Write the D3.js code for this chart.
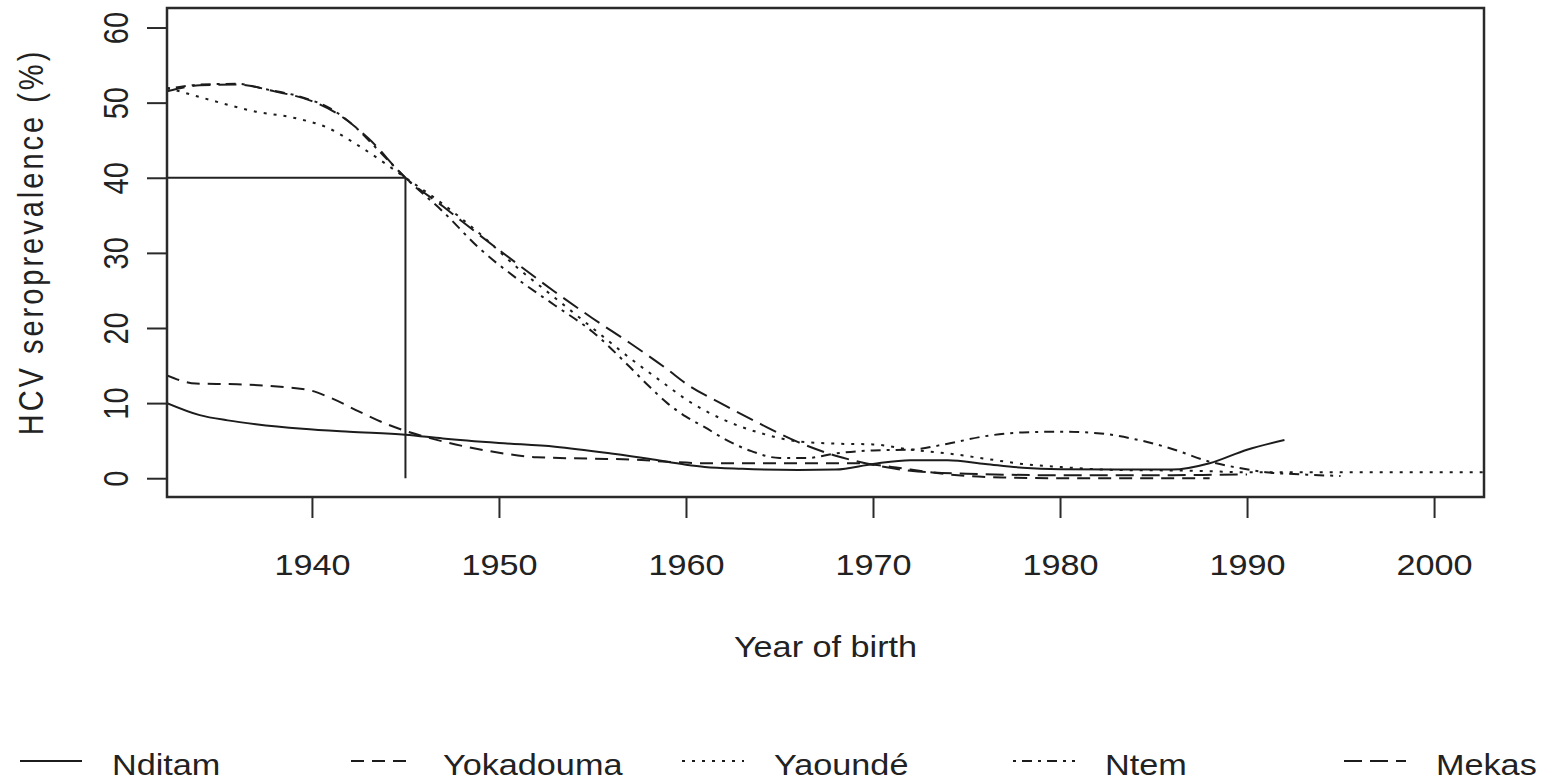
<!DOCTYPE html>
<html>
<head>
<meta charset="utf-8">
<script src="https://cdn.jsdelivr.net/npm/d3@7"></script>
<style>
  html, body { margin: 0; padding: 0; background: #fff; }
  svg { display: block; }
  text { font-family: "Liberation Sans", Arial, Helvetica, sans-serif; fill: #222; }
</style>
</head>
<body>
<svg id="chart" width="1555" height="783"></svg>
<script>
// ---------------- data ----------------
const seriesNames = ["Nditam", "Yokadouma", "Yaoundé", "Ntem", "Mekas"];

const nditamYears  = [1932.25, 1934, 1935.5, 1937, 1939.5, 1942, 1945, 1947, 1950, 1953, 1956, 1958, 1960, 1961, 1963, 1966, 1968, 1970, 1972, 1974, 1976, 1978, 1980, 1983, 1986, 1988, 1990, 1992];
const nditamValues = [10.0, 8.4, 7.7, 7.2, 6.6, 6.2, 5.8, 5.3, 4.7, 4.2, 3.3, 2.6, 1.8, 1.5, 1.25, 1.1, 1.15, 1.9, 2.4, 2.4, 1.9, 1.4, 1.2, 1.15, 1.15, 2.0, 3.8, 5.1];

const yokadoumaYears  = [1932.25, 1933.8, 1936, 1939.7, 1941, 1942.5, 1944, 1945, 1947, 1949.5, 1952, 1955, 1957, 1959, 1961, 1965, 1969, 1971, 1973, 1975, 1977, 1980, 1988];
const yokadoumaValues = [13.7, 12.6, 12.5, 11.8, 10.7, 8.9, 7.2, 6.3, 4.9, 3.6, 2.8, 2.6, 2.5, 2.2, 2.0, 2.0, 2.0, 1.5, 0.8, 0.3, 0.1, 0.0, 0.0];

const yaoundeYears  = [1932.25, 1934.5, 1937, 1939, 1940.8, 1942.6, 1945, 1947, 1949, 1951, 1953, 1955, 1957, 1959, 1960, 1962, 1964, 1966, 1968, 1970, 1972, 1974, 1976, 1978, 1980, 1983, 1987, 1990, 1995, 2002.67];
const yaoundeValues = [52.0, 50.4, 48.8, 48.0, 46.7, 44.1, 40.0, 36.5, 32.5, 28.0, 24.0, 20.0, 16.0, 12.3, 10.5, 7.8, 6.0, 4.9, 4.6, 4.5, 3.8, 3.3, 2.6, 1.9, 1.5, 1.1, 1.0, 0.8, 0.8, 0.8];

const ntemYears  = [1932.25, 1934, 1936, 1937.5, 1939.5, 1941, 1942.3, 1943.5, 1945, 1947, 1949, 1951, 1953, 1955, 1957, 1958, 1959, 1960, 1961, 1962, 1963.5, 1965, 1966.5, 1968, 1970, 1972, 1974, 1976, 1978, 1980, 1982, 1984, 1986, 1988, 1989.5, 1991, 1993, 1995];
const ntemValues = [51.8, 52.4, 52.5, 51.8, 50.7, 49.2, 46.8, 43.8, 40.0, 35.5, 30.5, 26.5, 23.0, 19.5, 14.8, 12.3, 10.0, 8.2, 6.8, 5.3, 3.6, 2.7, 2.7, 3.3, 3.7, 3.8, 4.6, 5.6, 6.1, 6.2, 6.0, 5.2, 3.9, 2.2, 1.4, 0.8, 0.5, 0.3];

const mekasYears  = [1932.25, 1934, 1936, 1938, 1940, 1941.5, 1943, 1945, 1947, 1949, 1951, 1953, 1955, 1957, 1959, 1960, 1962, 1964, 1966, 1968, 1970, 1972, 1975, 1980, 1985, 1990];
const mekasValues = [51.5, 52.3, 52.4, 51.5, 50.2, 48.3, 45.3, 40.0, 36.2, 32.3, 28.5, 24.8, 21.3, 18.0, 14.5, 12.6, 9.8, 7.2, 4.8, 3.0, 1.8, 1.0, 0.6, 0.4, 0.4, 0.5];

const xTickValues = [1940, 1950, 1960, 1970, 1980, 1990, 2000];
const yTickValues = [0, 10, 20, 30, 40, 50, 60];

// reference lines: 40% reached in 1945
const refYear = 1945;
const refValue = 40;

// ---------------- layout ----------------
const W = 1555, H = 783;
const plot = { left: 167, right: 1484, top: 8, bottom: 497 };
const fontSize = 29;
const stretch = 1.18;

const x = d3.scaleLinear().domain([1932.25, 2002.67]).range([plot.left, plot.right]);
const y = d3.scaleLinear().domain([-2.5, 62.6]).range([plot.bottom, plot.top]);

const dashes = ["none", "13,8", "3,7", "3,6,10,6", "18,8"];

const svg = d3.select("#chart");

svg.append("defs").append("clipPath").attr("id", "clip")
  .append("rect")
  .attr("x", plot.left).attr("y", plot.top)
  .attr("width", plot.right - plot.left).attr("height", plot.bottom - plot.top);

const series = [
  { name: seriesNames[0], years: nditamYears, values: nditamValues },
  { name: seriesNames[1], years: yokadoumaYears, values: yokadoumaValues },
  { name: seriesNames[2], years: yaoundeYears, values: yaoundeValues },
  { name: seriesNames[3], years: ntemYears, values: ntemValues },
  { name: seriesNames[4], years: mekasYears, values: mekasValues }
];

const line = d3.line()
  .x(d => x(d[0]))
  .y(d => y(d[1]))
  .curve(d3.curveMonotoneX);

const lines = svg.append("g").attr("clip-path", "url(#clip)");
series.forEach((s, i) => {
  const pts = s.years.map((yr, j) => [yr, s.values[j]]);
  lines.append("path")
    .attr("d", line(pts))
    .attr("fill", "none")
    .attr("stroke", "#1c1c1c")
    .attr("stroke-width", 2)
    .attr("stroke-dasharray", dashes[i]);
});

// reference lines
svg.append("line")
  .attr("x1", x(1932.25)).attr("x2", x(refYear))
  .attr("y1", y(refValue)).attr("y2", y(refValue))
  .attr("stroke", "#222").attr("stroke-width", 2);
svg.append("line")
  .attr("x1", x(refYear)).attr("x2", x(refYear))
  .attr("y1", y(refValue)).attr("y2", y(0))
  .attr("stroke", "#222").attr("stroke-width", 2);

// box
svg.append("rect")
  .attr("x", plot.left).attr("y", plot.top)
  .attr("width", plot.right - plot.left).attr("height", plot.bottom - plot.top)
  .attr("fill", "none").attr("stroke", "#2a2a2a").attr("stroke-width", 2.5);

// x axis
const xAxis = d3.axisBottom(x).tickValues(xTickValues).tickSize(21).tickSizeOuter(0).tickFormat(d3.format("d"));
const gx = svg.append("g").attr("transform", `translate(0,${plot.bottom})`).call(xAxis);
gx.select(".domain").attr("d", `M${x(1940)},0H${x(2000)}`).attr("stroke", "#2a2a2a").attr("stroke-width", 2);
gx.selectAll(".tick line").attr("stroke", "#2a2a2a").attr("stroke-width", 2);
gx.selectAll(".tick text").remove();
gx.selectAll(".tick").append("text")
  .attr("transform", `translate(0,78) scale(${stretch},1)`)
  .attr("text-anchor", "middle")
  .style("font-size", fontSize + "px")
  .text(d => d3.format("d")(d));

// y axis
const yAxis = d3.axisLeft(y).tickValues(yTickValues).tickSize(20).tickSizeOuter(0);
const gy = svg.append("g").attr("transform", `translate(${plot.left},0)`).call(yAxis);
gy.select(".domain").attr("d", `M0,${y(0)}V${y(60)}`).attr("stroke", "#2a2a2a").attr("stroke-width", 2);
gy.selectAll(".tick line").attr("stroke", "#2a2a2a").attr("stroke-width", 2);
gy.selectAll(".tick text").remove();
gy.selectAll(".tick").append("text")
  .attr("transform", `translate(-39,0) scale(${stretch},1) rotate(-90)`)
  .attr("text-anchor", "middle")
  .style("font-size", fontSize + "px")
  .text(d => d);

// axis titles
svg.append("text")
  .attr("transform", `translate(${(plot.left + plot.right) / 2},657) scale(${stretch},1)`)
  .attr("text-anchor", "middle")
  .style("font-size", fontSize + "px")
  .text("Year of birth");

svg.append("text")
  .attr("transform", `translate(43,242) scale(${stretch},1) rotate(-90)`)
  .attr("text-anchor", "middle")
  .style("font-size", fontSize + "px")
  .style("letter-spacing", "3px")
  .text("HCV seroprevalence (%)");

// legend
const legendStep = 331;
const legendY = 761;
const leg = svg.append("g");
series.forEach((s, i) => {
  const x0 = 20 + i * legendStep;
  leg.append("line")
    .attr("x1", x0).attr("x2", x0 + 62)
    .attr("y1", legendY).attr("y2", legendY)
    .attr("stroke", "#1c1c1c").attr("stroke-width", 2)
    .attr("stroke-dasharray", dashes[i]);
  leg.append("text")
    .attr("transform", `translate(${x0 + 92},${legendY + 14}) scale(${stretch},1)`)
    .style("font-size", fontSize + "px")
    .text(s.name);
});
</script>
</body>
</html>
